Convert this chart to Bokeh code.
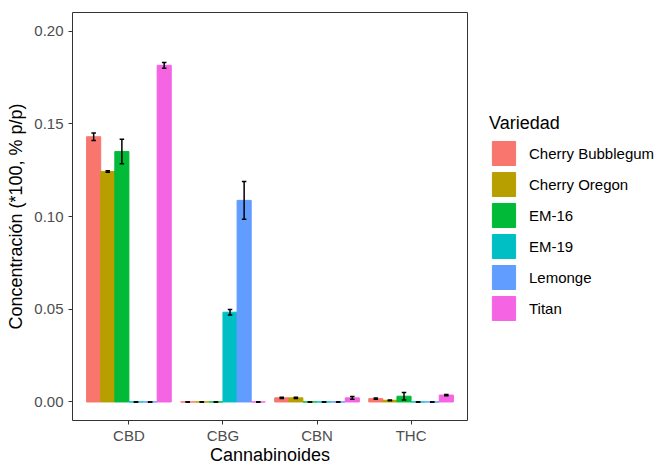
from bokeh.plotting import figure
from bokeh.layouts import row
from bokeh.models import (ColumnDataSource, FactorRange, Legend, LegendItem,
                          SingleIntervalTicker, CustomJSTickFormatter)
from bokeh.transform import dodge
from bokeh.embed import file_html
from bokeh.resources import INLINE

cannabinoids = ["CBD", "CBG", "CBN", "THC"]
varieties = ["Cherry Bubblegum", "Cherry Oregon", "EM-16", "EM-19", "Lemonge", "Titan"]
colors = ["#F8766D", "#B79F00", "#00BA38", "#00BFC4", "#619CFF", "#F564E3"]

means = {
    "Cherry Bubblegum": [0.1430, 0.0, 0.0022, 0.0018],
    "Cherry Oregon":    [0.1243, 0.0, 0.0022, 0.0009],
    "EM-16":            [0.1350, 0.0, 0.0, 0.0031],
    "EM-19":            [0.0, 0.0484, 0.0, 0.0],
    "Lemonge":          [0.0, 0.1087, 0.0, 0.0],
    "Titan":            [0.1815, 0.0, 0.0022, 0.0037],
}
errors = {
    "Cherry Bubblegum": [0.0020, 0.0, 0.0003, 0.0003],
    "Cherry Oregon":    [0.0004, 0.0, 0.0003, 0.0002],
    "EM-16":            [0.0066, 0.0, 0.0, 0.0020],
    "EM-19":            [0.0, 0.0015, 0.0, 0.0],
    "Lemonge":          [0.0, 0.0102, 0.0, 0.0],
    "Titan":            [0.0015, 0.0, 0.0008, 0.0003],
}

FONT = "Liberation Sans"
bar_w = 0.15
cap_half = 0.024

xr = FactorRange(factors=cannabinoids, range_padding=0.1, range_padding_units="absolute")

p = figure(width=468, height=467, output_backend="svg", toolbar_location=None,
           x_range=xr, y_range=(-0.01, 0.21),
           min_border_left=72, min_border_right=1, min_border_top=12,
           min_border_bottom=47)
p.background_fill_color = "white"
p.border_fill_color = "white"
p.outline_line_color = "#333333"
p.outline_line_width = 1
p.xgrid.visible = False
p.ygrid.visible = False

# companion panel that only hosts the legend
p2 = figure(width=195, height=467, output_backend="svg", toolbar_location=None,
            x_range=xr, y_range=p.y_range, x_axis_location=None,
            y_axis_location=None, min_border=0)
p2.outline_line_color = None
p2.xgrid.visible = False
p2.ygrid.visible = False
p2.background_fill_color = "white"
p2.border_fill_color = "white"

items = []
n = len(varieties)
for i, v in enumerate(varieties):
    off = (i - (n - 1) / 2) * bar_w
    m = means[v]
    e = errors[v]
    src = ColumnDataSource(dict(
        cat=cannabinoids, top=m,
        lo=[a - b for a, b in zip(m, e)],
        hi=[a + b for a, b in zip(m, e)],
    ))
    p.vbar(x=dodge("cat", off, range=xr), top="top", bottom=0,
           width=bar_w, fill_color=colors[i], line_color=colors[i],
           line_width=1, source=src)
    r2 = p2.vbar(x=dodge("cat", off, range=xr), top="top", bottom=0,
                 width=bar_w, fill_color=colors[i], line_color=colors[i],
                 line_width=1, source=src, visible=False)
    items.append(LegendItem(label=v, renderers=[r2]))
    p.segment(x0=dodge("cat", off, range=xr), y0="lo",
              x1=dodge("cat", off, range=xr), y1="hi",
              line_color="black", line_width=1.5, source=src)
    for col in ("lo", "hi"):
        p.segment(x0=dodge("cat", off - cap_half, range=xr), y0=col,
                  x1=dodge("cat", off + cap_half, range=xr), y1=col,
                  line_color="black", line_width=1.5, source=src)

p.yaxis.ticker = SingleIntervalTicker(interval=0.05)
p.yaxis.formatter = CustomJSTickFormatter(code="return tick.toFixed(2);")
for ax in (p.xaxis[0], p.yaxis[0]):
    ax.axis_line_color = None
    ax.major_tick_line_color = "#333333"
    ax.major_tick_out = 4
    ax.major_tick_in = 0
    ax.minor_tick_line_color = None
    ax.major_label_text_font = FONT
    ax.major_label_text_font_size = "15px"
    ax.major_label_text_color = "#4D4D4D"
    ax.axis_label_text_font = FONT
    ax.axis_label_text_font_size = "18px"
    ax.axis_label_text_color = "black"
    ax.axis_label_text_font_style = "normal"
p.xaxis.major_label_standoff = 2
p.xaxis.axis_label_standoff = -2
p.yaxis.major_label_standoff = 5
p.yaxis.axis_label_standoff = 5
p.xaxis.axis_label = "Cannabinoides"
p.yaxis.axis_label = "Concentración (*100, % p/p)"

legend = Legend(items=items, location=(21, 97), title="Variedad",
                title_text_font=FONT, title_text_font_size="18px",
                title_text_font_style="normal", title_text_color="black",
                title_standoff=4,
                label_text_font=FONT, label_text_font_size="15px",
                label_text_color="black",
                glyph_width=29, glyph_height=30, label_height=30,
                label_standoff=11, spacing=1, padding=0, margin=0,
                border_line_color=None, background_fill_alpha=0)
p2.add_layout(legend, "center")

layout = row(p, p2, spacing=0)
open("out.html", "w").write(file_html(layout, INLINE))
